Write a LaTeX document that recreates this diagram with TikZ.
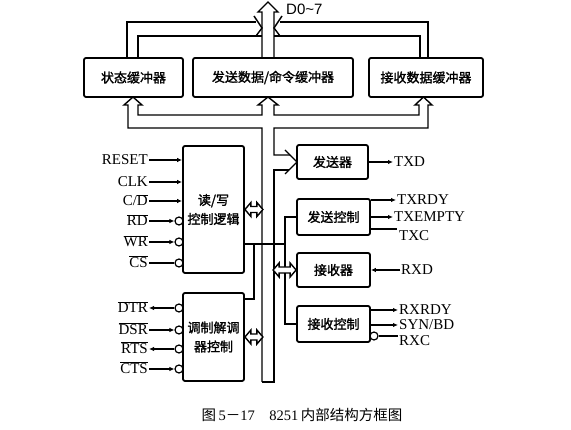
\documentclass[tikz,border=0pt]{standalone}
\usepackage{fontspec}
\setmainfont{Liberation Serif}
\newfontfamily\cjkf[FakeBold=1.5]{Noto Sans CJK SC}
\newfontfamily\cjkcap{Noto Sans CJK SC}
\newfontfamily\sansf{Liberation Sans}
\usetikzlibrary{arrows.meta,calc}
\newcommand\ovl[1]{$\overline{\hbox{#1}}$}
\newcommand\biarrow[2]{\draw[widearrow] (#1) -- ++(6,-7) -- ++(0,4) -- ++({#2-12},0) -- ++(0,-4) -- ++(6,7) -- ++(-6,7) -- ++(0,-4) -- ++({12-#2},0) -- ++(0,4) -- cycle;}
\begin{document}
\begin{tikzpicture}[x=1pt,y=-1pt,
 box/.style={draw,line width=1.8pt,rounded corners=2pt,fill=white,inner sep=0pt,align=center,font=\cjkf\fontsize{13}{19}\selectfont},
 sig/.style={font=\fontsize{15}{16}\selectfont,inner sep=1pt,text height=10pt,text depth=0pt},
 ln/.style={line width=1.3pt},
 bus/.style={line width=1.4pt,line join=miter},
 widearrow/.style={line width=1.4pt,fill=white,line join=miter},
 bub/.style={circle,draw,line width=1.2pt,fill=white,minimum size=8pt,inner sep=0pt},
 arr/.style={ln,-{Latex[length=5pt,width=4.5pt]}}]
\useasboundingbox[fill=white] (0,0) rectangle (571,430);

% ---- top data bus
\draw[bus] (262,58) -- (262,12) -- (258,12) -- (268,2) -- (278,12) -- (274,12) -- (274,58);
\draw[bus] (127,58) -- (127,22) -- (256,22);
\draw[bus] (254,16) -- (262,28) -- (256,36);
\draw[bus] (138,58) -- (138,36) -- (262,36);
\draw[bus] (428,58) -- (428,22) -- (280,22);
\draw[bus] (282,16) -- (274,28) -- (280,36);
\draw[bus] (420,58) -- (420,36) -- (274,36);
\node[font=\sansf\fontsize{15}{15}\selectfont,anchor=west,inner sep=0pt] (dlabel) at (286,9) {D0\string~7};

% ---- internal bus
\draw[bus] (262,382) -- (262,128) -- (128,128) -- (128,105) -- (124,105) -- (133,97) -- (142,105) -- (138,105) -- (138,115) -- (262,115) -- (262,105) -- (258,105) -- (268,97) -- (278,105) -- (274,105) -- (274,115) -- (419,115) -- (419,105) -- (415,105) -- (423.5,97) -- (432,105) -- (428,105) -- (428,128) -- (274,128) -- (274,155) -- (290,155);
\draw[bus] (285,150) -- (297,162) -- (285,174);
\draw[bus] (289,170) -- (274,170) -- (274,382) -- (262,382);

% ---- boxes
\node[box,minimum width=99pt,minimum height=39pt] (sb) at (133.5,77.5) {状态缓冲器};
\node[box,minimum width=160pt,minimum height=39pt] (tb) at (273,77.5) {发送数据/命令缓冲器};
\node[box,minimum width=114pt,minimum height=39pt] (rb) at (426,77.5) {接收数据缓冲器};
\node[box,minimum width=61pt,minimum height=127pt] (rw) at (213.5,209.5) {读/写\\控制逻辑};
\node[box,minimum width=61pt,minimum height=88pt] (mo) at (213.5,337) {调制解调\\器控制};
\node[box,minimum width=71pt,minimum height=34pt] (tx) at (332.5,162) {发送器};
\node[box,minimum width=73pt,minimum height=36pt] (tc) at (333.5,217) {发送控制};
\node[box,minimum width=73pt,minimum height=34pt] (rx) at (333.5,270) {接收器};
\node[box,minimum width=73pt,minimum height=36pt] (rc) at (333.5,324) {接收控制};

% ---- control lines
\coordinate (cj) at (285,244);
\draw[ln] (rw.east|-cj) -- (cj);
\draw[ln] (tc.west) -- (tc.west-|cj) -- (rc.west-|cj) -- (rc.west);
\draw[ln] (254,244) -- (254,299) -- (mo.east|-0,299);

% ---- wide bidirectional arrows
\biarrow{rw.east}{18}
\biarrow{mo.east}{18}
\biarrow{$(rx.west)+(-23,0)$}{23}

% ---- left signals
\node[sig,anchor=east] (reset) at (149,160) {RESET};
\node[sig,anchor=east] (clk) at (149,182) {CLK};
\node[sig,anchor=east] (cd) at (149,201) {C/\ovl{D}};
\node[sig,anchor=east] (rd) at (149,221) {\ovl{RD}};
\node[sig,anchor=east] (wr) at (149,242) {\ovl{WR}};
\node[sig,anchor=east] (cs) at (149,263) {\ovl{CS}};
\draw[arr] (reset.east) -- (reset.east-|rw.west);
\draw[arr] (clk.east) -- (clk.east-|rw.west);
\draw[arr] (cd.east) -- (cd.east-|rw.west);
\node[bub] (rdb) at (179,221) {};
\node[bub] (wrb) at (179,242) {};
\node[bub] (csb) at (179,263) {};
\draw[arr] (rd) -- (rdb);
\draw[arr] (wr) -- (wrb);
\draw[ln] (cs) -- (csb);

\node[sig,anchor=east] (dtr) at (149,308) {\ovl{DTR}};
\node[sig,anchor=east] (dsr) at (149,330) {\ovl{DSR}};
\node[sig,anchor=east] (rts) at (149,349) {\ovl{RTS}};
\node[sig,anchor=east] (cts) at (149,369) {\ovl{CTS}};
\node[bub] (dtrb) at (179,308) {};
\node[bub] (dsrb) at (179,330) {};
\node[bub] (rtsb) at (179,349) {};
\node[bub] (ctsb) at (179,369) {};
\draw[arr] (dtrb) -- (dtr);
\draw[arr] (dsr) -- (dsrb);
\draw[arr] (rtsb) -- (rts);
\draw[arr] (cts) -- (ctsb);

% ---- right signals
\node[sig,anchor=west] (txd) at (393,162) {TXD};
\node[sig,anchor=west] (txrdy) at (396,200) {TXRDY};
\node[sig,anchor=west] (txempty) at (393,217) {TXEMPTY};
\node[sig,anchor=west] (txc) at (398,236) {TXC};
\node[sig,anchor=west] (rxd) at (400,270) {RXD};
\node[sig,anchor=west] (rxrdy) at (398,310) {RXRDY};
\node[sig,anchor=west] (synbd) at (398,325) {SYN/BD};
\node[sig,anchor=west] (rxc) at (398,341) {RXC};
\draw[arr] (tx) -- (txd);
\draw[arr] (tc.east|-txrdy) -- (txrdy);
\draw[arr] (tc.east|-txempty) -- (txempty);
\coordinate (txcend) at (397,229);
\draw[ln] (tc.east|-txcend) -- (txcend);
\draw[arr] (rxd) -- (rx);
\draw[arr] (rc.east|-rxrdy) -- (rxrdy);
\draw[arr] (rc.east|-synbd) -- (synbd);
\node[bub] (rxcb) at (374,336) {};
\coordinate (rxcend) at (398,336);
\draw[ln] (rxcb) -- (rxcend);

% ---- caption
\node[font=\cjkcap\fontsize{14.5}{16}\selectfont] (cap) at (302,415) {图\,{\rmfamily 5}－{\rmfamily 17}\quad{\rmfamily 8251}\,内部结构方框图};
\end{tikzpicture}
\end{document}
